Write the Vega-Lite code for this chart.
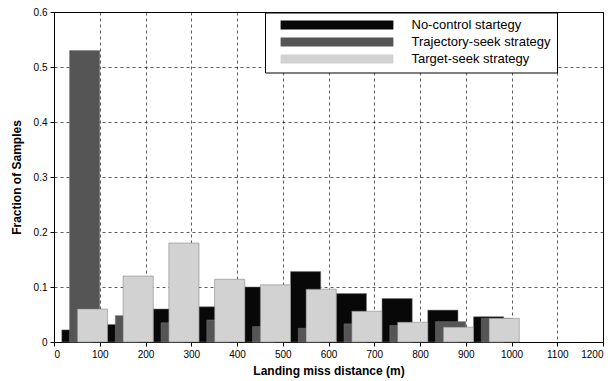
{
  "$schema": "https://vega.github.io/schema/vega-lite/v6.json",
  "width": 549,
  "height": 330,
  "autosize": {"type": "none"},
  "padding": {"left": 54, "top": 12, "right": 8, "bottom": 39},
  "background": "white",
  "config": {
    "font": "Liberation Sans",
    "view": {"stroke": "black", "strokeWidth": 1},
    "axis": {
      "grid": true,
      "gridColor": "black",
      "gridDash": [3, 3],
      "gridWidth": 0.8,
      "gridOpacity": 0.8,
      "domain": false,
      "tickColor": "black",
      "tickSize": 4,
      "labelColor": "black",
      "labelFont": "Liberation Sans",
      "labelFontSize": 10,
      "titleFont": "Liberation Sans",
      "titleFontSize": 12,
      "titleFontWeight": "bold",
      "titleColor": "black"
    }
  },
  "data": {
    "values": [
      {"s": "No-control startegy", "x0": 17, "x1": 83, "v": 0.022},
      {"s": "No-control startegy", "x0": 117, "x1": 183, "v": 0.032},
      {"s": "No-control startegy", "x0": 217, "x1": 283, "v": 0.06},
      {"s": "No-control startegy", "x0": 317, "x1": 383, "v": 0.064},
      {"s": "No-control startegy", "x0": 417, "x1": 483, "v": 0.1},
      {"s": "No-control startegy", "x0": 517, "x1": 583, "v": 0.128},
      {"s": "No-control startegy", "x0": 617, "x1": 683, "v": 0.088},
      {"s": "No-control startegy", "x0": 717, "x1": 783, "v": 0.079},
      {"s": "No-control startegy", "x0": 817, "x1": 883, "v": 0.058},
      {"s": "No-control startegy", "x0": 917, "x1": 983, "v": 0.046},
      {"s": "Trajectory-seek strategy", "x0": 34, "x1": 100, "v": 0.53},
      {"s": "Trajectory-seek strategy", "x0": 134, "x1": 200, "v": 0.048},
      {"s": "Trajectory-seek strategy", "x0": 234, "x1": 300, "v": 0.035},
      {"s": "Trajectory-seek strategy", "x0": 334, "x1": 400, "v": 0.04},
      {"s": "Trajectory-seek strategy", "x0": 434, "x1": 500, "v": 0.028},
      {"s": "Trajectory-seek strategy", "x0": 534, "x1": 600, "v": 0.025},
      {"s": "Trajectory-seek strategy", "x0": 634, "x1": 700, "v": 0.033},
      {"s": "Trajectory-seek strategy", "x0": 734, "x1": 800, "v": 0.03},
      {"s": "Trajectory-seek strategy", "x0": 834, "x1": 900, "v": 0.037},
      {"s": "Trajectory-seek strategy", "x0": 934, "x1": 1000, "v": 0.043},
      {"s": "Target-seek strategy", "x0": 51, "x1": 117, "v": 0.06},
      {"s": "Target-seek strategy", "x0": 151, "x1": 217, "v": 0.12},
      {"s": "Target-seek strategy", "x0": 251, "x1": 317, "v": 0.18},
      {"s": "Target-seek strategy", "x0": 351, "x1": 417, "v": 0.114},
      {"s": "Target-seek strategy", "x0": 451, "x1": 517, "v": 0.104},
      {"s": "Target-seek strategy", "x0": 551, "x1": 617, "v": 0.096},
      {"s": "Target-seek strategy", "x0": 651, "x1": 717, "v": 0.056},
      {"s": "Target-seek strategy", "x0": 751, "x1": 817, "v": 0.036},
      {"s": "Target-seek strategy", "x0": 851, "x1": 917, "v": 0.027},
      {"s": "Target-seek strategy", "x0": 951, "x1": 1017, "v": 0.043}
    ]
  },
  "mark": {"type": "bar", "stroke": "#777", "strokeWidth": 0.5},
  "encoding": {
    "x": {
      "field": "x0",
      "type": "quantitative",
      "scale": {"domain": [0, 1200], "nice": false},
      "axis": {"values": [0, 100, 200, 300, 400, 500, 600, 700, 800, 900, 1000, 1100, 1200], "format": "d", "title": "Landing miss distance (m)", "labelPadding": 3, "titlePadding": 6}
    },
    "x2": {"field": "x1"},
    "y": {
      "field": "v",
      "type": "quantitative",
      "stack": null,
      "scale": {"domain": [0, 0.6], "nice": false},
      "axis": {"values": [0, 0.1, 0.2, 0.3, 0.4, 0.5, 0.6], "format": ".1~f", "title": "Fraction of Samples", "labelPadding": 3, "titlePadding": 10}
    },
    "y2": {"datum": 0},
    "color": {
      "field": "s",
      "type": "nominal",
      "scale": {
        "domain": ["No-control startegy", "Trajectory-seek strategy", "Target-seek strategy"],
        "range": ["#080808", "#555555", "#d2d2d2"]
      },
      "legend": {
        "title": null,
        "orient": "none",
        "legendX": 211,
        "legendY": 0.5,
        "fillColor": "white",
        "strokeColor": "black",
        "padding": 6,
        "rowPadding": 3,
        "symbolType": "M-9.4,-0.75H9.4V0.75H-9.4Z",
        "symbolSize": 144,
        "symbolOffset": 59.5,
        "symbolStrokeWidth": 0,
        "symbolOpacity": 1,
        "labelOffset": 68,
        "labelFontSize": 13,
        "labelColor": "black",
        "labelLimit": 400
      }
    }
  }
}
